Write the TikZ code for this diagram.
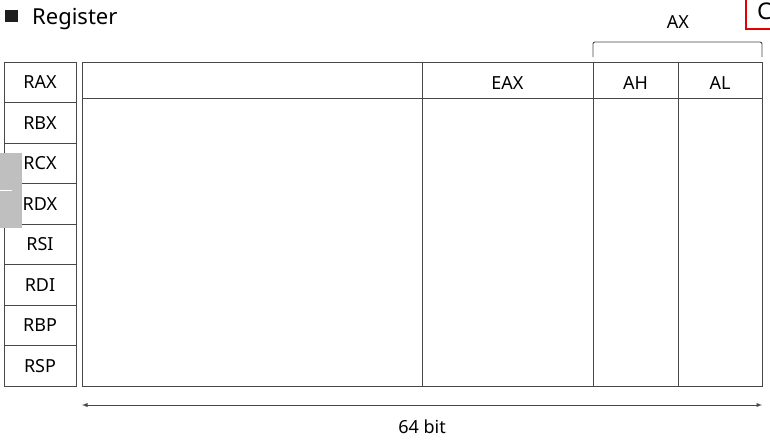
\documentclass[tikz,border=0pt]{standalone}
\usepackage{fontspec}
\setmainfont{Noto Sans}
\usetikzlibrary{positioning}

\begin{document}
\begin{tikzpicture}[x=1pt, y=-1pt,
    regline/.style={draw=black!72, line width=0.9pt},
    regname/.style={rectangle, regline, minimum width=72pt, minimum height=40.5pt, inner sep=0pt, outer sep=0pt, font=\fontsize{18}{18}\selectfont},
    cell/.style={rectangle, regline, minimum height=36.5pt, inner sep=0pt, outer sep=0pt, text height=19pt, text depth=0pt, font=\fontsize{18}{18}\selectfont},
    tag/.style={inner sep=0pt, font=\fontsize{18}{18}\selectfont},
    arrow/.style={<->, >=latex, draw=black!72, line width=0.9pt}
]
\useasboundingbox (0,0) rectangle (770,440);

% title
\node[fill=black!88, minimum width=13pt, minimum height=12pt, inner sep=0pt] (mark) at (11,16) {};
\node[anchor=base west, inner sep=0pt, font=\fontsize{22}{22}\selectfont] (title) at (32,24) {Register};

% register names
\node[regname, anchor=north west] (rax) at (4,62) {RAX};
\node[regname, below=0pt of rax] (rbx) {RBX};
\node[regname, below=0pt of rbx] (rcx) {RCX};
\node[regname, below=0pt of rcx] (rdx) {RDX};
\node[regname, below=0pt of rdx] (rsi) {RSI};
\node[regname, below=0pt of rsi] (rdi) {RDI};
\node[regname, below=0pt of rdi] (rbp) {RBP};
\node[regname, below=0pt of rbp] (rsp) {RSP};

% register body
\node[regline, anchor=north west, minimum width=680pt, minimum height=324pt, inner sep=0pt, outer sep=0pt] (body) at (82,62) {};
\node[cell, anchor=north west, minimum width=340pt] (upper) at (body.north west) {};
\node[cell, right=0pt of upper, minimum width=171pt] (eax) {EAX};
\node[cell, right=0pt of eax, minimum width=85pt] (ah) {AH};
\node[cell, right=0pt of ah, minimum width=84pt] (al) {AL};

\draw[regline] (eax.south west) -- (eax.south west |- body.south);
\draw[regline] (ah.south west) -- (ah.south west |- body.south);
\draw[regline] (al.south west) -- (al.south west |- body.south);

% AX bracket
\coordinate (axl) at (593,57);
\coordinate (axr) at (762,57);
\draw[regline, rounded corners=2pt] (axl) -- ++(0,-15) -| (axr);
\node[tag] (ax) at (678,22) {AX};

% width
\coordinate (wl) at (82,405);
\coordinate (wr) at (762,405);
\draw[arrow] (wl) -- (wr);
\node[tag] (bits) at (422,427) {64 bit};

% cut-off marks at the edges
\draw[red!90!black, line width=2pt] (746,-5) rectangle (800,29);
\node[anchor=base west, inner sep=0pt, font=\fontsize{23}{23}\selectfont] (cut) at (757,19) {C};
\fill[black!25] (0,153) rectangle (22,228);
\draw[white, line width=1pt] (0,190) -- (12,190);
\end{tikzpicture}
\end{document}
